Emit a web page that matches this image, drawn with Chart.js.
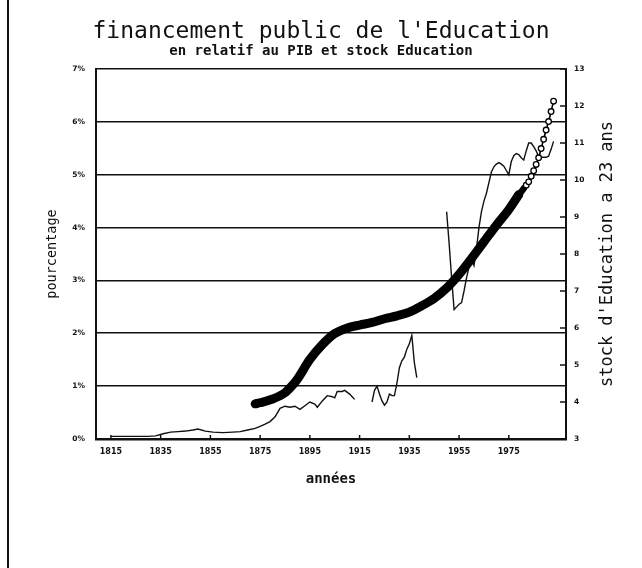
<!DOCTYPE html>
<html><head><meta charset="utf-8">
<script src="https://cdn.jsdelivr.net/npm/chart.js@4/dist/chart.umd.min.js"></script>
<style>
html,body{margin:0;padding:0;background:#fff;}
#wrap{position:relative;width:642px;height:568px;overflow:hidden;}
#frame{position:absolute;left:7px;top:0;width:2px;height:568px;background:#111;}
canvas{position:absolute;left:0;top:0;}
</style></head><body>
<div id="wrap"><canvas id="c" width="642" height="568"></canvas><div id="frame"></div></div>
<script>
// ---- data ----
const finYears = [1815,1820,1825,1830,1833,1836,1839,1842,1845,1848,1850,1853,1856,1860,1864,1867,1870,1873,1875,1877,1879,1881,1882,1883,1885,1887,1889,1891,1893,1895,1897,1898,1900,1902,1904,1905,1906,1908,1909,1911,1912,1913,1916,
 1920,1921,1922,1923,1924,1925,1926,1927,1928,1929,1930,1931,1932,1933,1934,1935,1936,1937,1938,1944,
 1950,1951,1952,1953,1954,1955,1956,1957,1958,1959,1960,1961,1962,1963,1964,1965,1966,1967,1968,1969,1970,1971,1972,1973,1974,1975,1976,1977,1978,1979,1980,1981,1982,1983,1984,1985,1986,1987,1988,1989,1990,1991,1992,1993];
const finValues = [0.05,0.05,0.05,0.05,0.06,0.10,0.13,0.14,0.15,0.17,0.19,0.15,0.13,0.12,0.13,0.14,0.17,0.20,0.24,0.28,0.33,0.42,0.50,0.58,0.62,0.60,0.62,0.56,0.63,0.70,0.66,0.60,0.72,0.82,0.80,0.78,0.90,0.90,0.92,0.85,0.80,0.75,null,
 0.70,0.92,1.00,0.85,0.72,0.64,0.70,0.85,0.82,0.82,1.05,1.35,1.48,1.55,1.70,1.80,1.96,1.45,1.16,null,
 4.30,3.70,3.05,2.45,2.50,2.55,2.58,2.80,3.05,3.25,3.40,3.28,3.60,4.00,4.30,4.50,4.65,4.85,5.05,5.15,5.20,5.23,5.20,5.16,5.08,5.00,5.25,5.36,5.40,5.38,5.32,5.28,5.45,5.60,5.60,5.53,5.45,5.34,5.33,5.33,5.33,5.35,5.48,5.63];
const stockYears = [1873,1875,1880,1885,1888,1890,1895,1900,1905,1910,1915,1920,1925,1930,1935,1940,1945,1950,1955,1960,1965,1970,1975,
 1976,1977,1978,1979,1980,1981,1982,1983,1984,1985,1986,1987,1988,1989,1990,1991,1992,1993];
const stockValues = [3.95,3.98,4.08,4.25,4.45,4.62,5.15,5.55,5.85,6.00,6.08,6.15,6.25,6.33,6.43,6.60,6.80,7.08,7.45,7.88,8.33,8.78,9.20,
 9.30,9.40,9.50,9.60,9.68,9.77,9.86,9.95,10.10,10.25,10.42,10.60,10.85,11.10,11.35,11.58,11.85,12.13];
const yearTicks = [1815,1835,1855,1875,1895,1915,1935,1955,1975];
const pctTicks = [0,1,2,3,4,5,6,7];
const stockTicks = [3,4,5,6,7,8,9,10,11,12,13];
const titleText = "financement public de l'Education";
const subtitleText = "en relatif au PIB et stock Education";
const xTitle = "années";
const yTitle = "pourcentage";
const y1Title = "stock d'Education a 23 ans";

const MONO = "'DejaVu Sans Mono', 'Liberation Mono', monospace";
const SANS = "'DejaVu Sans', sans-serif";
Chart.defaults.font.family = MONO;
Chart.defaults.color = '#111';

const extras = {
  id: 'extras',
  afterDatasetsDraw(chart) {
    const {ctx, chartArea: a, scales: {x, y1}} = chart;
    ctx.save();
    ctx.strokeStyle = '#111';
    ctx.lineWidth = 1.5;
    y1.ticks.forEach(t => {
      const py = y1.getPixelForValue(t.value);
      ctx.beginPath(); ctx.moveTo(a.right - 6, py); ctx.lineTo(a.right, py); ctx.stroke();
    });
    x.ticks.forEach(t => {
      const px = x.getPixelForValue(t.value);
      ctx.beginPath(); ctx.moveTo(px, a.bottom); ctx.lineTo(px, a.bottom - 4); ctx.stroke();
    });
    // right axis title, reading upward like the left one
    ctx.translate(a.right + 42, (a.top + a.bottom) / 2);
    ctx.rotate(-Math.PI / 2);
    ctx.fillStyle = '#111';
    ctx.font = "17px " + MONO;
    ctx.textAlign = 'center';
    ctx.textBaseline = 'middle';
    ctx.fillText(y1Title, 0, 0);
    ctx.restore();
  }
};

const segWidth = x => x < 1979 ? 9 : (x < 1981 ? 6.5 : (x < 1983 ? 4 : 1.6));

new Chart(document.getElementById('c'), {
  type: 'line',
  data: {
    datasets: [
      {
        label: 'stock',
        data: stockYears.map((v, i) => ({x: v, y: stockValues[i]})),
        yAxisID: 'y1',
        borderColor: '#000',
        borderWidth: 9,
        borderCapStyle: 'round',
        borderJoinStyle: 'round',
        cubicInterpolationMode: 'monotone',
        segment: { borderWidth: c => segWidth(c.p0.parsed.x) },
        pointRadius: c => (c.raw && c.raw.x >= 1982) ? 2.8 : 0,
        pointStyle: 'circle',
        pointBackgroundColor: '#fff',
        pointBorderColor: '#000',
        pointBorderWidth: 1.3,
        fill: false
      },
      {
        label: 'financement',
        data: finYears.map((v, i) => ({x: v, y: finValues[i]})),
        yAxisID: 'y',
        borderColor: '#111',
        borderWidth: 1.4,
        pointRadius: 0,
        spanGaps: false,
        tension: 0,
        fill: false
      }
    ]
  },
  options: {
    responsive: false,
    animation: false,
    devicePixelRatio: 1,
    layout: {padding: 0},
    plugins: {
      legend: {display: false},
      tooltip: {enabled: false},
      title: {display: true, text: titleText, color: '#111',
        font: {family: MONO, size: 23, weight: 'normal', lineHeight: 1.0},
        padding: {top: 21, bottom: 0}},
      subtitle: {display: true, text: subtitleText, color: '#111',
        font: {family: MONO, size: 14, weight: 'bold', lineHeight: 1.0},
        padding: {top: 0, bottom: 11}}
    },
    scales: {
      x: {
        type: 'linear', min: 1809, max: 1998,
        afterBuildTicks: s => { s.ticks = yearTicks.map(v => ({value: v})); },
        afterFit: s => { s.height = 129; },
        ticks: {autoSkip: false, maxRotation: 0, padding: 8, color: '#111',
          font: {family: SANS, size: 8, weight: 'bold'}, callback: v => String(v)},
        grid: {display: false, drawTicks: false},
        border: {display: true, color: '#111', width: 2.5},
        title: {display: true, text: xTitle, color: '#111',
          font: {family: MONO, size: 14, weight: 'bold', lineHeight: 1.2}, padding: {top: 0, bottom: 80}}
      },
      y: {
        position: 'left', min: 0, max: 7,
        afterBuildTicks: s => { s.ticks = pctTicks.map(v => ({value: v})); },
        afterFit: s => { s.width = 96; },
        ticks: {padding: 11, color: '#111', font: {family: SANS, size: 7.5, weight: 'bold'}, callback: v => v + '%'},
        grid: {color: '#111', lineWidth: 1.6, drawTicks: false},
        border: {display: true, color: '#111', width: 2},
        title: {display: true, text: yTitle, color: '#111',
          font: {family: MONO, size: 13.5, weight: 'normal', lineHeight: 1.2}, padding: {top: 44, bottom: 0}}
      },
      y1: {
        position: 'right', min: 3, max: 13,
        afterBuildTicks: s => { s.ticks = stockTicks.map(v => ({value: v})); },
        afterFit: s => { s.width = 76; },
        ticks: {padding: 8, color: '#111', font: {family: SANS, size: 7.5, weight: 'bold'}},
        grid: {drawOnChartArea: false, drawTicks: false},
        border: {display: true, color: '#111', width: 2}
      }
    }
  },
  plugins: [extras]
});
</script>
</body></html>
